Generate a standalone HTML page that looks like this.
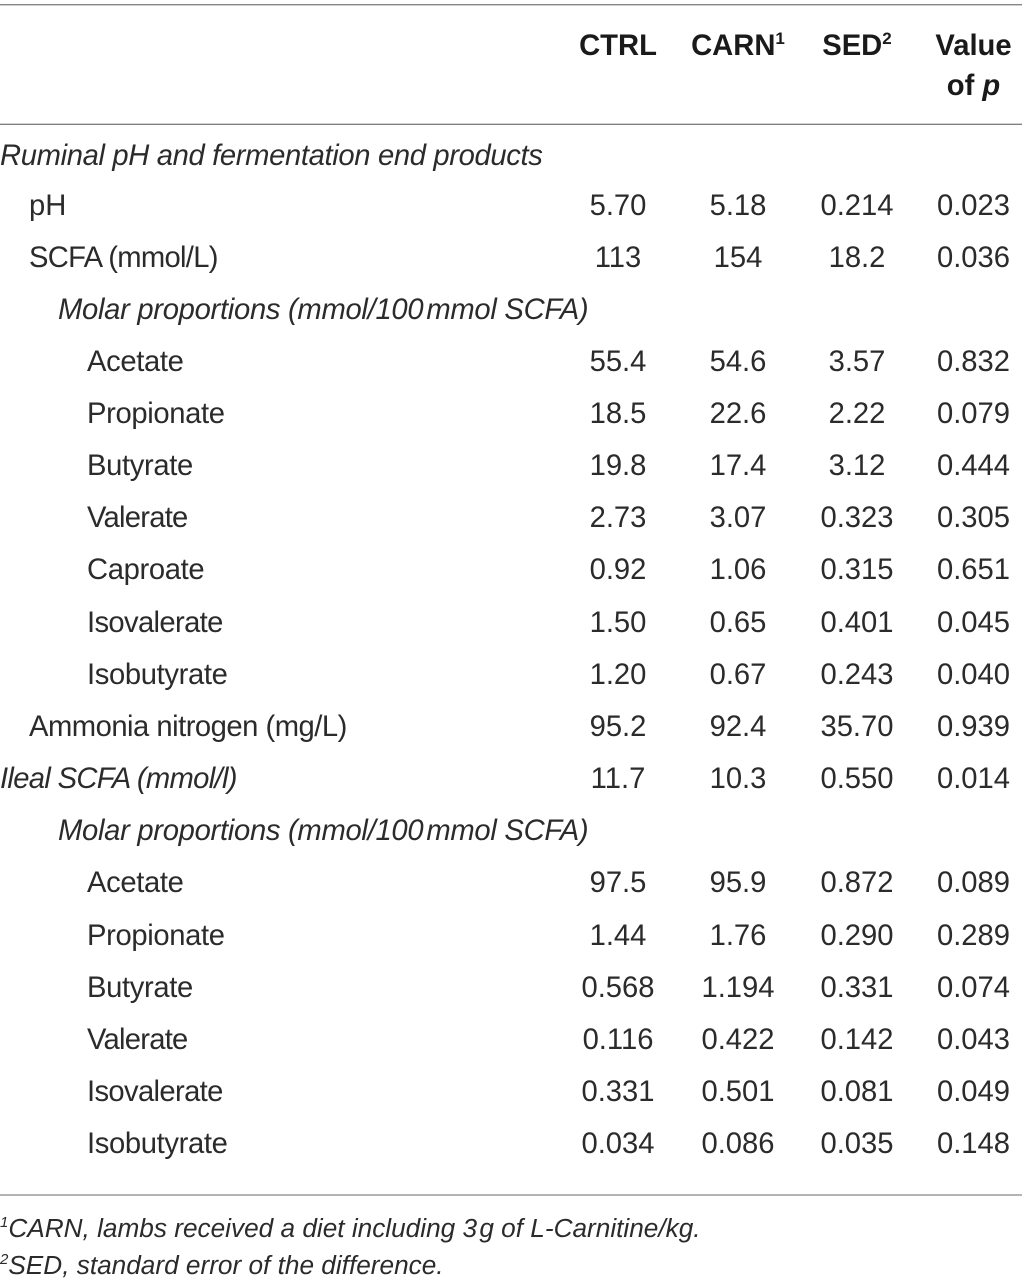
<!DOCTYPE html>
<html lang="en">
<head>
<meta charset="utf-8">
<title>Ruminal and ileal fermentation table</title>
<style>
html,body{margin:0;padding:0;background:#fff;}
#page{position:relative;width:1022px;height:1284px;overflow:hidden;background:#fff;color:#2b2b2b;font-family:"Liberation Sans",sans-serif;font-size:29.2px;}
.rule{position:absolute;left:0;width:1022px;height:2px;}
.row{position:absolute;left:0;width:1022px;height:40px;line-height:40px;white-space:nowrap;}
.row span{position:absolute;top:0;}
.l0{left:0;font-style:italic;}
.l1{left:29px;}
.l2{left:58px;font-style:italic;letter-spacing:-0.29px;}
.l3{left:87px;letter-spacing:-0.35px;}
.c1,.c2,.c3,.c4{width:130px;text-align:center;}
.c1{left:553px;}
.c2{left:673px;}
.c3{left:792px;}
.c4{left:908.5px;}
.hd{font-weight:bold;color:#1a1a1a;}
.row sup{font-size:17px;line-height:0;vertical-align:baseline;position:relative;top:-11px;}
.note{position:absolute;left:0;height:36px;line-height:36px;font-style:italic;font-size:26.2px;white-space:nowrap;}
.note sup{font-size:15px;line-height:0;vertical-align:baseline;position:relative;top:-10px;}
.gap{position:static !important;letter-spacing:-5px;}
</style>
</head>
<body>
<div id="page">
<div class="rule" style="top:4px;background:linear-gradient(#868686 50%,#cfcfcf 50%)"></div>
<div class="rule" style="top:123px;background:linear-gradient(#d0d0d0 50%,#808080 50%)"></div>
<div class="rule" style="top:1194px;background:#b4b4b4"></div>

<div class="row" style="top:26px">
<span class="c1 hd">CTRL</span>
<span class="c2 hd">CARN<sup>1</sup></span>
<span class="c3 hd">SED<sup>2</sup></span>
<span class="c4 hd">Value</span>
</div>
<div class="row" style="top:66px">
<span class="c4 hd">of <i>p</i></span>
</div>

<div class="row" style="top:136px"><span class="l0" style="letter-spacing:-0.35px">Ruminal pH and fermentation end products</span></div>

<div class="row" style="top:186px"><span class="l1">pH</span><span class="c1">5.70</span><span class="c2">5.18</span><span class="c3">0.214</span><span class="c4">0.023</span></div>
<div class="row" style="top:238px"><span class="l1" style="letter-spacing:-0.7px">SCFA (mmol/L)</span><span class="c1">113</span><span class="c2">154</span><span class="c3">18.2</span><span class="c4">0.036</span></div>
<div class="row" style="top:290px"><span class="l2">Molar proportions (mmol/100<span class="gap"> </span>mmol SCFA)</span></div>
<div class="row" style="top:342px"><span class="l3">Acetate</span><span class="c1">55.4</span><span class="c2">54.6</span><span class="c3">3.57</span><span class="c4">0.832</span></div>
<div class="row" style="top:394px"><span class="l3">Propionate</span><span class="c1">18.5</span><span class="c2">22.6</span><span class="c3">2.22</span><span class="c4">0.079</span></div>
<div class="row" style="top:446px"><span class="l3">Butyrate</span><span class="c1">19.8</span><span class="c2">17.4</span><span class="c3">3.12</span><span class="c4">0.444</span></div>
<div class="row" style="top:498px"><span class="l3" style="letter-spacing:-0.75px">Valerate</span><span class="c1">2.73</span><span class="c2">3.07</span><span class="c3">0.323</span><span class="c4">0.305</span></div>
<div class="row" style="top:550px"><span class="l3">Caproate</span><span class="c1">0.92</span><span class="c2">1.06</span><span class="c3">0.315</span><span class="c4">0.651</span></div>
<div class="row" style="top:603px"><span class="l3" style="letter-spacing:-0.64px">Isovalerate</span><span class="c1">1.50</span><span class="c2">0.65</span><span class="c3">0.401</span><span class="c4">0.045</span></div>
<div class="row" style="top:655px"><span class="l3">Isobutyrate</span><span class="c1">1.20</span><span class="c2">0.67</span><span class="c3">0.243</span><span class="c4">0.040</span></div>
<div class="row" style="top:707px"><span class="l1" style="letter-spacing:-0.5px">Ammonia nitrogen (mg/L)</span><span class="c1">95.2</span><span class="c2">92.4</span><span class="c3">35.70</span><span class="c4">0.939</span></div>
<div class="row" style="top:759px"><span class="l0" style="letter-spacing:-0.68px">Ileal SCFA (mmol/l)</span><span class="c1">11.7</span><span class="c2">10.3</span><span class="c3">0.550</span><span class="c4">0.014</span></div>
<div class="row" style="top:811px"><span class="l2">Molar proportions (mmol/100<span class="gap"> </span>mmol SCFA)</span></div>
<div class="row" style="top:863px"><span class="l3">Acetate</span><span class="c1">97.5</span><span class="c2">95.9</span><span class="c3">0.872</span><span class="c4">0.089</span></div>
<div class="row" style="top:916px"><span class="l3">Propionate</span><span class="c1">1.44</span><span class="c2">1.76</span><span class="c3">0.290</span><span class="c4">0.289</span></div>
<div class="row" style="top:968px"><span class="l3">Butyrate</span><span class="c1">0.568</span><span class="c2">1.194</span><span class="c3">0.331</span><span class="c4">0.074</span></div>
<div class="row" style="top:1020px"><span class="l3" style="letter-spacing:-0.75px">Valerate</span><span class="c1">0.116</span><span class="c2">0.422</span><span class="c3">0.142</span><span class="c4">0.043</span></div>
<div class="row" style="top:1072px"><span class="l3" style="letter-spacing:-0.64px">Isovalerate</span><span class="c1">0.331</span><span class="c2">0.501</span><span class="c3">0.081</span><span class="c4">0.049</span></div>
<div class="row" style="top:1124px"><span class="l3">Isobutyrate</span><span class="c1">0.034</span><span class="c2">0.086</span><span class="c3">0.035</span><span class="c4">0.148</span></div>

<div class="note" style="top:1210px"><sup>1</sup>CARN, lambs received a diet including 3<span class="gap"> </span>g of L-Carnitine/kg.</div>
<div class="note" style="top:1247px"><sup>2</sup>SED, standard error of the difference.</div>
</div>
</body>
</html>
